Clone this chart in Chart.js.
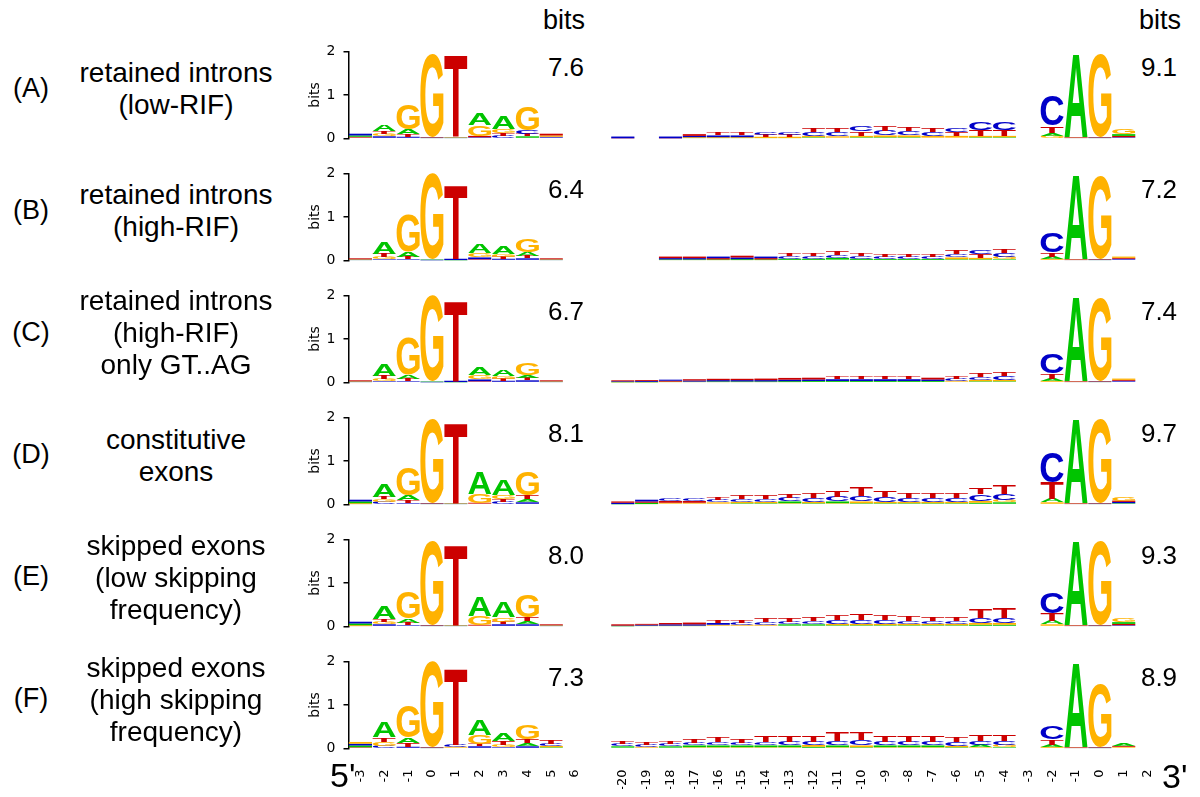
<!DOCTYPE html>
<html>
<head>
<meta charset="utf-8">
<script src="https://cdn.jsdelivr.net/npm/chart.js@4.4.1/dist/chart.umd.min.js"></script>
<style>
  body { margin: 0; background: #fff; }
  #page { position: relative; width: 1200px; height: 797px; overflow: hidden; font-family: 'Liberation Sans', Arial, sans-serif; color: #000; }
  .abs { position: absolute; white-space: nowrap; }
  canvas { position: absolute; left: 0; }
</style>
</head>
<body>
<div id="page"></div>
<script>
// Positions along each logo
const donorPositions = ['-3', '-2', '-1', '0', '1', '2', '3', '4', '5', '6'];
const acceptorPositions = ['-20', '-19', '-18', '-17', '-16', '-15', '-14', '-13', '-12', '-11', '-10',
    '-9', '-8', '-7', '-6', '-5', '-4', '-3', '-2', '-1', '0', '1', '2'];

// Row labels
const rowKeys = ['(A)', '(B)', '(C)', '(D)', '(E)', '(F)'];
const rowTitles = [
    ['retained introns', '(low-RIF)'],
    ['retained introns', '(high-RIF)'],
    ['retained introns', '(high-RIF)', 'only GT..AG'],
    ['constitutive', 'exons'],
    ['skipped exons', '(low skipping', 'frequency)'],
    ['skipped exons', '(high skipping', 'frequency)']
];
// Total information (bits) printed next to each logo
const donorBits = [7.6, 6.4, 6.7, 8.1, 8.0, 7.3];
const acceptorBits = [9.1, 7.2, 7.4, 9.7, 9.3, 8.9];

// Letter heights in bits, 5' splice site (-3..6)
const donorA = {
    A: [0.03, 0.15, 0.12, 0.01, 0.01, 0.27, 0.29, 0.05, 0.02, 0],
    C: [0.04, 0.05, 0.04, 0.01, 0.01, 0.03, 0.06, 0.08, 0.02, 0],
    G: [0.02, 0.06, 0.58, 1.90, 0.01, 0.25, 0.10, 0.55, 0.03, 0],
    T: [0.02, 0.07, 0.06, 0.01, 1.87, 0.03, 0.06, 0.05, 0.04, 0]
};
const donorB = {
    A: [0.01, 0.28, 0.12, 0.01, 0.005, 0.20, 0.18, 0.08, 0.01, 0],
    C: [0.01, 0.03, 0.03, 0.005, 0.03, 0.04, 0.04, 0.05, 0.01, 0],
    G: [0.01, 0.05, 0.85, 1.95, 0.005, 0.10, 0.06, 0.30, 0.01, 0],
    T: [0.02, 0.08, 0.06, 0.005, 1.70, 0.03, 0.05, 0.05, 0.02, 0]
};
const donorC = {
    A: [0.01, 0.26, 0.10, 0.01, 0.005, 0.18, 0.15, 0.07, 0.01, 0],
    C: [0.01, 0.03, 0.03, 0.005, 0.03, 0.04, 0.04, 0.05, 0.01, 0],
    G: [0.01, 0.05, 0.85, 1.95, 0.005, 0.10, 0.06, 0.28, 0.01, 0],
    T: [0.02, 0.08, 0.06, 0.005, 1.85, 0.03, 0.05, 0.05, 0.02, 0]
};
const donorD = {
    A: [0.04, 0.31, 0.11, 0.01, 0.01, 0.49, 0.36, 0.07, 0, 0],
    C: [0.04, 0.06, 0.03, 0.01, 0.01, 0.02, 0.06, 0.05, 0, 0],
    G: [0.02, 0.06, 0.62, 1.92, 0.01, 0.20, 0.10, 0.55, 0, 0],
    T: [0.01, 0.06, 0.07, 0.01, 1.84, 0.02, 0.06, 0.08, 0, 0]
};
const donorE = {
    A: [0.04, 0.30, 0.10, 0.01, 0.01, 0.45, 0.35, 0.07, 0.01, 0],
    C: [0.04, 0.05, 0.03, 0.01, 0.01, 0.02, 0.05, 0.05, 0.01, 0],
    G: [0.02, 0.06, 0.60, 1.92, 0.01, 0.20, 0.10, 0.50, 0.01, 0],
    T: [0.01, 0.07, 0.06, 0.01, 1.84, 0.02, 0.06, 0.08, 0.02, 0]
};
const donorF = {
    A: [0.04, 0.34, 0.13, 0.01, 0.02, 0.35, 0.18, 0.07, 0.03, 0],
    C: [0.04, 0.06, 0.04, 0.01, 0.05, 0.05, 0.03, 0.05, 0.05, 0],
    G: [0.04, 0.10, 0.73, 1.95, 0.02, 0.20, 0.06, 0.33, 0.03, 0],
    T: [0.03, 0.10, 0.08, 0.01, 1.75, 0.05, 0.09, 0.10, 0.09, 0]
};

// Letter heights in bits, polypyrimidine tract + 3' splice site (-20..2)
const acceptorA = {
    A: [0, 0, 0, 0.01, 0.01, 0.01, 0.01, 0.01, 0.03, 0.02, 0.03, 0.03, 0.03, 0.02, 0.02, 0.03, 0.03, 0, 0.07, 1.90, 0.01, 0.04, 0],
    C: [0.04, 0, 0.04, 0.03, 0.04, 0.04, 0.06, 0.06, 0.08, 0.10, 0.12, 0.11, 0.10, 0.08, 0.09, 0.18, 0.18, 0, 0.69, 0.01, 0.01, 0.03, 0],
    G: [0, 0, 0, 0.02, 0.02, 0.02, 0.03, 0.03, 0.03, 0.03, 0.03, 0.04, 0.04, 0.04, 0.04, 0.03, 0.03, 0, 0.06, 0.01, 1.90, 0.12, 0],
    T: [0.005, 0, 0.005, 0.04, 0.05, 0.05, 0.05, 0.05, 0.08, 0.10, 0.10, 0.11, 0.10, 0.08, 0.08, 0.14, 0.14, 0, 0.16, 0.01, 0.01, 0.03, 0]
};
const acceptorB = {
    A: [0, 0, 0.015, 0.015, 0.015, 0.02, 0.015, 0.025, 0.025, 0.04, 0.025, 0.02, 0.02, 0.02, 0.03, 0.03, 0.03, 0, 0.05, 1.93, 0.01, 0.02, 0],
    C: [0, 0, 0.03, 0.03, 0.035, 0.04, 0.035, 0.06, 0.06, 0.06, 0.06, 0.045, 0.045, 0.045, 0.07, 0.10, 0.09, 0, 0.45, 0.01, 0.01, 0.02, 0],
    G: [0, 0, 0.01, 0.01, 0.01, 0.01, 0.01, 0.015, 0.015, 0.02, 0.015, 0.015, 0.015, 0.015, 0.04, 0.03, 0.06, 0, 0.04, 0.01, 1.90, 0.03, 0],
    T: [0, 0, 0.035, 0.035, 0.03, 0.04, 0.03, 0.06, 0.06, 0.08, 0.06, 0.05, 0.05, 0.05, 0.08, 0.09, 0.10, 0, 0.10, 0.01, 0.01, 0.02, 0]
};
const acceptorC = {
    A: [0.01, 0.01, 0.01, 0.01, 0.015, 0.015, 0.015, 0.02, 0.02, 0.02, 0.02, 0.02, 0.02, 0.02, 0.02, 0.03, 0.03, 0, 0.05, 1.93, 0.01, 0.02, 0],
    C: [0.015, 0.02, 0.025, 0.025, 0.03, 0.03, 0.03, 0.035, 0.035, 0.04, 0.04, 0.04, 0.04, 0.035, 0.05, 0.07, 0.08, 0, 0.45, 0.01, 0.01, 0.02, 0],
    G: [0.005, 0.005, 0.01, 0.01, 0.01, 0.01, 0.01, 0.01, 0.015, 0.015, 0.015, 0.015, 0.015, 0.015, 0.02, 0.03, 0.03, 0, 0.04, 0.01, 1.90, 0.03, 0],
    T: [0.02, 0.02, 0.02, 0.03, 0.03, 0.03, 0.035, 0.04, 0.04, 0.045, 0.05, 0.045, 0.045, 0.04, 0.06, 0.08, 0.09, 0, 0.12, 0.01, 0.01, 0.02, 0]
};
const acceptorD = {
    A: [0.005, 0.03, 0.02, 0.02, 0.02, 0.03, 0.03, 0.04, 0.03, 0.04, 0.03, 0.03, 0.03, 0.03, 0.03, 0.04, 0.05, 0, 0.08, 1.95, 0.01, 0.03, 0],
    C: [0.03, 0.04, 0.05, 0.05, 0.05, 0.07, 0.07, 0.08, 0.10, 0.11, 0.13, 0.12, 0.08, 0.08, 0.08, 0.16, 0.14, 0, 0.68, 0.01, 0.01, 0.03, 0],
    G: [0.005, 0.01, 0.02, 0.02, 0.03, 0.03, 0.03, 0.03, 0.03, 0.03, 0.04, 0.03, 0.03, 0.03, 0.03, 0.04, 0.05, 0, 0.05, 0.01, 1.93, 0.10, 0],
    T: [0.03, 0.03, 0.04, 0.04, 0.06, 0.09, 0.09, 0.10, 0.13, 0.15, 0.20, 0.16, 0.11, 0.11, 0.11, 0.16, 0.20, 0, 0.38, 0.01, 0.01, 0.03, 0]
};
const acceptorE = {
    A: [0.005, 0.01, 0.01, 0.01, 0.02, 0.02, 0.02, 0.03, 0.03, 0.03, 0.03, 0.03, 0.03, 0.03, 0.03, 0.04, 0.04, 0, 0.08, 1.95, 0.01, 0.04, 0],
    C: [0.01, 0.02, 0.03, 0.03, 0.04, 0.05, 0.06, 0.06, 0.07, 0.08, 0.08, 0.08, 0.07, 0.07, 0.07, 0.12, 0.12, 0, 0.48, 0.01, 0.01, 0.03, 0],
    G: [0.005, 0.01, 0.01, 0.01, 0.02, 0.02, 0.02, 0.02, 0.02, 0.03, 0.03, 0.03, 0.03, 0.03, 0.03, 0.04, 0.04, 0, 0.05, 0.01, 1.93, 0.10, 0],
    T: [0.03, 0.02, 0.03, 0.04, 0.05, 0.06, 0.08, 0.08, 0.10, 0.11, 0.14, 0.12, 0.11, 0.10, 0.10, 0.20, 0.23, 0, 0.18, 0.01, 0.01, 0.03, 0]
};
const acceptorF = {
    A: [0.03, 0.02, 0.03, 0.04, 0.04, 0.04, 0.04, 0.04, 0.04, 0.04, 0.03, 0.04, 0.04, 0.04, 0.03, 0.05, 0.03, 0, 0.05, 1.93, 0.01, 0.05, 0],
    C: [0.05, 0.05, 0.05, 0.06, 0.07, 0.06, 0.07, 0.08, 0.08, 0.10, 0.12, 0.09, 0.08, 0.08, 0.08, 0.10, 0.09, 0, 0.30, 0.01, 0.01, 0.02, 0],
    G: [0.02, 0.02, 0.02, 0.03, 0.03, 0.03, 0.03, 0.03, 0.04, 0.03, 0.04, 0.03, 0.03, 0.03, 0.03, 0.03, 0.05, 0, 0.04, 0.01, 1.45, 0.02, 0],
    T: [0.05, 0.05, 0.07, 0.10, 0.11, 0.10, 0.14, 0.15, 0.16, 0.20, 0.18, 0.16, 0.15, 0.15, 0.12, 0.15, 0.16, 0, 0.12, 0.01, 0.01, 0.02, 0]
};

const donors = [donorA, donorB, donorC, donorD, donorE, donorF];
const acceptors = [acceptorA, acceptorB, acceptorC, acceptorD, acceptorE, acceptorF];

const BASES = ['A', 'C', 'G', 'T'];
const BASE_COLORS = { A: '#00c400', C: '#0000c8', G: '#ffb200', T: '#cc0000' };
const LOGO_FONT = "'DejaVu Sans', sans-serif";

// Layout of the rows
const ROW_TOP = 46.7;      // pixel of "2 bits" on first row
const ROW_STEP = 122.1;
const PLOT_H = 91.5;
const PAD_TOP = 12;
const X_AXIS_H = 40;

// Draw a letter stretched into a rectangle
function drawLetter(ctx, ch, left, top, w, h) {
    if (h < 0.3) return;
    ctx.save();
    ctx.fillStyle = BASE_COLORS[ch];
    if (h < 1.8) {
        ctx.fillRect(left, top, w, h);
        ctx.restore();
        return;
    }
    ctx.font = "bold 100px 'Liberation Sans', Arial, sans-serif";
    ctx.textAlign = 'left';
    ctx.textBaseline = 'alphabetic';
    const m = ctx.measureText(ch);
    const gw = m.actualBoundingBoxLeft + m.actualBoundingBoxRight;
    const gh = m.actualBoundingBoxAscent + m.actualBoundingBoxDescent;
    ctx.translate(left, top);
    ctx.scale(w / gw, h / gh);
    ctx.fillText(ch, m.actualBoundingBoxLeft, m.actualBoundingBoxAscent);
    ctx.restore();
}

// Plugin: paint each stacked bar segment as its nucleotide letter
const logoLetters = {
    id: 'logoLetters',
    afterDatasetsDraw(chart) {
        const ctx = chart.ctx;
        chart.data.datasets.forEach((ds, di) => {
            const meta = chart.getDatasetMeta(di);
            meta.data.forEach((bar, i) => {
                const ch = ds.letters[i];
                if (!ch || !ds.data[i]) return;
                const p = bar.getProps(['x', 'y', 'base', 'width'], true);
                const top = Math.min(p.y, p.base);
                drawLetter(ctx, ch, p.x - p.width / 2, top, p.width, Math.abs(p.base - p.y));
            });
        });
    }
};

// Build 4 "rank" datasets so that each column is stacked smallest letter at bottom
function buildDatasets(donor, acceptor) {
    const columns = [];
    donorPositions.forEach((_, i) => columns.push(BASES.map(b => ({ b: b, v: donor[b][i] }))));
    columns.push(null);  // gap between the two logos
    acceptorPositions.forEach((_, i) => columns.push(BASES.map(b => ({ b: b, v: acceptor[b][i] }))));

    const datasets = [0, 1, 2, 3].map(r => ({ data: [], letters: [], backgroundColor: 'rgba(0,0,0,0)', borderWidth: 0 }));
    columns.forEach(col => {
        if (!col) {
            datasets.forEach(ds => { ds.data.push(null); ds.letters.push(null); });
            return;
        }
        const sorted = col.slice().sort((a, b) => a.v - b.v);
        sorted.forEach((item, r) => {
            datasets[r].data.push(item.v);
            datasets[r].letters.push(item.b);
        });
    });
    return datasets;
}

const labels = donorPositions.concat([''], acceptorPositions);
const page = document.getElementById('page');

function addText(text, x, y, size, align, family) {
    const d = document.createElement('div');
    d.className = 'abs';
    d.textContent = text;
    d.style.fontSize = size + 'px';
    d.style.lineHeight = size + 'px';
    if (family) d.style.fontFamily = family;
    d.style.top = (y - size / 2) + 'px';
    if (align === 'center') {
        d.style.left = (x - 150) + 'px';
        d.style.width = '300px';
        d.style.textAlign = 'center';
    } else {
        d.style.left = x + 'px';
    }
    page.appendChild(d);
    return d;
}

function initLogoRow(row) {
    const yTop = ROW_TOP + row * ROW_STEP;
    const yMid = yTop + 42.5;
    const last = row === rowKeys.length - 1;

    // Row label and description
    addText(rowKeys[row], 31, yMid - 1, 27, 'center');
    const lines = rowTitles[row];
    lines.forEach((ln, k) => {
        addText(ln, 176, yMid + (k - (lines.length - 1) / 2) * 32, 28, 'center');
    });

    // Total information numbers
    addText(donorBits[row].toFixed(1), 566, yTop + 20, 26, 'center');
    addText(acceptorBits[row].toFixed(1), 1159, yTop + 20, 26, 'center');

    const canvas = document.createElement('canvas');
    canvas.width = 1200;
    canvas.height = Math.round(PAD_TOP + PLOT_H + X_AXIS_H);
    canvas.style.top = (yTop - PAD_TOP) + 'px';
    page.appendChild(canvas);

    new Chart(canvas, {
        type: 'bar',
        data: {
            labels: labels,
            datasets: buildDatasets(donors[row], acceptors[row])
        },
        options: {
            responsive: false,
            animation: false,
            devicePixelRatio: 1,
            events: [],
            datasets: { bar: { barPercentage: 0.97, categoryPercentage: 1.0 } },
            layout: { padding: { left: 306, right: 40.5, top: PAD_TOP, bottom: 0 } },
            plugins: { legend: { display: false }, tooltip: { enabled: false } },
            scales: {
                x: {
                    stacked: true,
                    offset: true,
                    afterFit: (scale) => { scale.height = canvas.height - PAD_TOP - PLOT_H; },
                    grid: { display: false },
                    border: { display: false },
                    ticks: {
                        autoSkip: false,
                        maxRotation: 90,
                        minRotation: 90,
                        padding: 13,
                        color: last ? '#000' : 'rgba(0,0,0,0)',
                        font: { family: LOGO_FONT, size: 13 }
                    }
                },
                y: {
                    stacked: true,
                    min: 0,
                    max: 2,
                    afterFit: (scale) => { scale.width = 42.5; },
                    title: { display: true, text: 'bits', color: '#000', font: { family: LOGO_FONT, size: 14 }, padding: { top: 1, bottom: 0 } },
                    grid: { drawOnChartArea: false, drawTicks: true, tickLength: 5, color: '#000', lineWidth: 1.5 },
                    border: { display: true, color: '#000', width: 1.5 },
                    ticks: { stepSize: 1, padding: 8, color: '#000', font: { family: LOGO_FONT, size: 14 } }
                }
            }
        },
        plugins: [logoLetters]
    });
}

rowKeys.forEach((_, row) => initLogoRow(row));

// Header "bits" labels and strand ends
addText('bits', 564, 20, 27, 'center');
addText('bits', 1160, 20, 27, 'center');
addText("5'", 330, 775, 34, 'left');
addText("3'", 1162, 776, 34, 'left');
</script>
</body>
</html>
